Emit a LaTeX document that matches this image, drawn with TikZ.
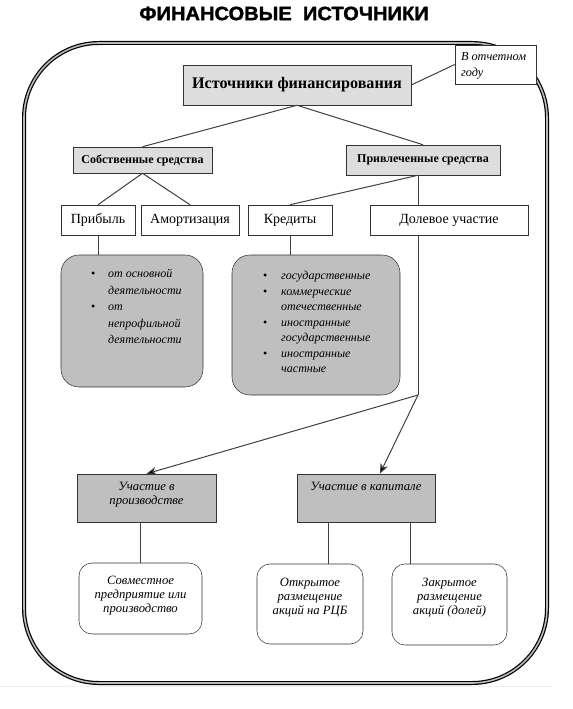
\documentclass[tikz,border=0pt]{standalone}
\usepackage{fontspec}
\setmainfont{Liberation Serif}
\setsansfont{Liberation Sans}
\newfontfamily\titlefont{Liberation Sans}[UprightFeatures={FakeBold=1.6},BoldFeatures={FakeBold=1.6}]
\usetikzlibrary{arrows.meta,calc}

\newdimen\px \px=0.75pt
% box of fixed size, text from the top
\newcommand{\topbox}[4]{\parbox[c][#2\px][t]{#1\px}{\vspace*{#3\px}#4}}
\newcommand{\bul}{{\upshape\textbullet}}

\begin{document}
\begin{tikzpicture}[x=0.75pt,y=-0.75pt]
        \tikzstyle{head}=[draw=black!80,fill=gray!27,inner sep=0pt]
        \tikzstyle{plain}=[draw=black!80,fill=white,inner sep=0pt]
        \tikzstyle{shade}=[draw=black!80,fill=gray!50,inner sep=0pt]
        \tikzstyle{list}=[shade,rounded corners=18\px]
        \tikzstyle{leaf}=[plain,rounded corners=13\px]
        \tikzstyle{edge}=[draw=black!75,line width=1\px]
        \tikzstyle{tip}=[-{Stealth[length=7.5pt,width=6pt,inset=2.2pt]}]
       \useasboundingbox (0,0) rectangle (573,709);
       \node[font=\titlefont\bfseries\fontsize{14.5}{16}\selectfont] (title) at (284,13.5) {\scalebox{1.04}[1]{ФИНАНСОВЫЕ\ \ ИСТОЧНИКИ}};
       \draw[gray!12,line width=1\px] (0,686.5) -- (552,686.5);
       \draw[line width=1.2\px,double=gray!55,double distance=1.6\px,rounded corners=75\px] (24,43) rectangle (547,683);
       \begin{scope}
         \node [head,minimum width=228\px,minimum height=40\px,font=\bfseries\fontsize{12.1}{14}\selectfont] (src) at (297,85) {Источники финансирования};
         \node [plain,font=\itshape\fontsize{9.2}{12}\selectfont] (year) at (495.5,64.5) {\topbox{81}{39}{7}{\hspace*{6\px}В отчетном\\\hspace*{6\px}году}};
         \node [head,minimum width=139\px,minimum height=26\px,font=\bfseries\fontsize{9}{11}\selectfont] (own) at (142.5,160) {Собственные средства};
         \node [head,minimum width=154\px,minimum height=30\px,font=\bfseries\fontsize{9}{11}\selectfont] (attr) at (423,160) {\raisebox{2\px}{Привлеченные средства}};
         \node [plain,minimum width=74\px,minimum height=30\px,font=\fontsize{10.5}{12}\selectfont] (prib) at (98,220) {Прибыль};
         \node [plain,minimum width=98\px,minimum height=30\px,font=\fontsize{10.5}{12}\selectfont] (amort) at (190,220) {Амортизация};
         \node [plain,minimum width=84\px,minimum height=30\px,font=\fontsize{10.5}{12}\selectfont] (kred) at (290,220) {Кредиты};
         \node [plain,minimum width=158\px,minimum height=30\px,font=\fontsize{10.5}{12}\selectfont] (dol) at (449,220) {Долевое участие};
         \node [list,font=\itshape\fontsize{9}{12.4}\selectfont] (pbox) at (132,321) {\topbox{142}{132}{11}{\hspace*{30\px}\begin{tabular}[t]{@{}l@{\hspace{13\px}}l@{}}
           \bul & от основной\\ & деятельности\\ \bul & от\\ & непрофильной\\ & деятельности\end{tabular}}};
         \node [list,font=\itshape\fontsize{9}{11.6}\selectfont] (kbox) at (316,325) {\topbox{168}{140}{14}{\hspace*{31\px}\begin{tabular}[t]{@{}l@{\hspace{14\px}}l@{}}
           \bul & государственные\\ \bul & коммерческие\\ & отечественные\\ \bul & иностранные\\ & государственные\\ \bul & иностранные\\ & частные\end{tabular}}};
         \node [shade,font=\itshape\fontsize{9.5}{10.5}\selectfont] (uprod) at (146.5,498) {\topbox{139}{48}{8}{\centering Участие в\\производстве}};
         \node [shade,font=\itshape\fontsize{9.5}{10.5}\selectfont] (ukap) at (366,498) {\topbox{138}{48}{8}{\centering Участие в капитале}};
         \node [leaf,font=\itshape\fontsize{9.5}{10.5}\selectfont] (sovm) at (140.5,598.5) {\topbox{123}{71}{13}{\centering Совместное\\предприятие или\\производство}};
         \node [leaf,font=\itshape\fontsize{9.5}{10.5}\selectfont] (otkr) at (310,604) {\topbox{106}{80}{14}{\centering Открытое\\размещение\\акций на РЦБ}};
         \node [leaf,font=\itshape\fontsize{9.5}{10.5}\selectfont] (zakr) at (449.5,604.5) {\topbox{115}{81}{14}{\centering Закрытое\\размещение\\акций (долей)}};
         \coordinate (split) at (418,395);
         \coordinate (ka) at ($(ukap.north west)!0.6!(ukap.north east)$);
         \coordinate (ko) at ($(ukap.south west)!0.23!(ukap.south east)$);
         \coordinate (kz) at ($(ukap.south west)!0.82!(ukap.south east)$);
         \path[edge] (src.east) edge (year.west);
         \path[edge] (src.south) edge (own.north) edge (attr.north);
         \path[edge] (own.south) edge (prib.north) edge (amort.north);
         \path[edge] (split |- attr.south) edge (kred.north) edge (split |- dol.north);
         \path[edge] (prib.south) edge (prib.south |- pbox.north);
         \path[edge] (kred.south) edge (kred.south |- kbox.north);
         \path[edge] (split |- dol.south) edge (split);
         \path[edge] (split) edge[tip] (uprod.north) edge[tip] (ka);
         \path[edge] (sovm.north |- uprod.south) edge (sovm.north);
         \path[edge] (ko) edge (ko |- otkr.north);
         \path[edge] (kz) edge (kz |- zakr.north);
        \end{scope}
      \end{tikzpicture}
\end{document}
